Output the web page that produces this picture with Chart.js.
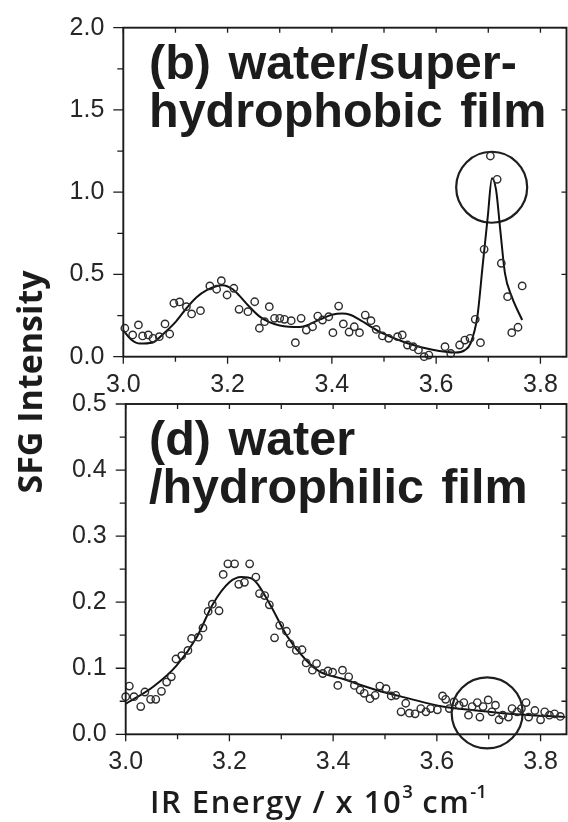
<!DOCTYPE html>
<html lang="en">

<head>
    <meta charset="UTF-8">
    <title>SFG spectra</title>
    <script src="https://cdn.jsdelivr.net/npm/chart.js"></script>
    <style>
        body {
            margin: 0;
            width: 568px;
            height: 822px;
            background: #fff;
            position: relative;
            overflow: hidden;
        }

        canvas {
            position: absolute;
            left: 0;
        }

        #topChart { top: 0; }
        #botChart { top: 380px; }

        .panelLabel {
            position: absolute;
            left: 149px;
            font-family: "Liberation Sans", Arial, sans-serif;
            font-weight: bold;
            font-size: 48.5px;
            line-height: 48px;
            word-spacing: 4px;
            color: #1c1c1c;
            white-space: nowrap;
        }

        #yTitle {
            position: absolute;
            left: -101px;
            top: 362px;
            width: 260px;
            height: 40px;
            line-height: 40px;
            text-align: center;
            font-family: "Open Sans", sans-serif;
            font-weight: 700;
            font-size: 34px;
            color: #1c1c1c;
            transform: rotate(-90deg);
            white-space: nowrap;
        }

        #xTitle {
            position: absolute;
            left: 0;
            width: 637px;
            top: 781px;
            line-height: 40px;
            text-align: center;
            font-family: "Open Sans", sans-serif;
            font-weight: 600;
            font-size: 31px;
            letter-spacing: 1.5px;
            color: #1c1c1c;
            white-space: nowrap;
        }

        #xTitle sup {
            font-size: 0.6em;
            line-height: 0;
            letter-spacing: 0;
            position: relative;
            top: -0.2em;
        }
    </style>
</head>

<body>
    <canvas id="topChart" width="568" height="400"></canvas>
    <canvas id="botChart" width="568" height="400"></canvas>

    <div class="panelLabel" style="top: 37.5px;">(b) water/super-<br>hydrophobic film</div>
    <div class="panelLabel" style="top: 414px;">(d) water<br>/hydrophilic film</div>
    <div id="yTitle">SFG Intensity</div>
    <div id="xTitle">IR Energy / x 10<sup>3</sup> cm<sup>-1</sup></div>

    <script>
        // axis ticks
        const xLabelVals = [3.0, 3.2, 3.4, 3.6, 3.8];
        const xTickVals = [3.0, 3.1, 3.2, 3.3, 3.4, 3.5, 3.6, 3.7, 3.8];
        const topYLabelVals = [0.0, 0.5, 1.0, 1.5, 2.0];
        const topYTickVals = [0.0, 0.25, 0.5, 0.75, 1.0, 1.25, 1.5, 1.75, 2.0];
        const botYLabelVals = [0.0, 0.1, 0.2, 0.3, 0.4, 0.5];
        const botYTickVals = [0.0, 0.05, 0.1, 0.15, 0.2, 0.25, 0.3, 0.35, 0.4, 0.45, 0.5];

        // (b) water / superhydrophobic film: measured points
        const topPtsX = [3.003, 3.018, 3.029, 3.037, 3.048, 3.057, 3.069, 3.080, 3.089, 3.097,
            3.108, 3.121, 3.131, 3.148, 3.166, 3.179, 3.188, 3.199, 3.212, 3.222,
            3.239, 3.252, 3.261, 3.271, 3.280, 3.290, 3.300, 3.309, 3.322, 3.330,
            3.341, 3.351, 3.363, 3.373, 3.382, 3.394, 3.402, 3.413, 3.422, 3.433,
            3.443, 3.453, 3.464, 3.475, 3.485, 3.497, 3.509, 3.526, 3.535, 3.545,
            3.556, 3.566, 3.577, 3.586, 3.617, 3.628, 3.645, 3.655, 3.665, 3.675,
            3.685, 3.692, 3.704, 3.717, 3.725, 3.737, 3.745, 3.757, 3.765];
        const topPtsY = [0.173, 0.132, 0.193, 0.126, 0.132, 0.112, 0.122, 0.199, 0.138, 0.325,
            0.333, 0.304, 0.260, 0.280, 0.430, 0.410, 0.462, 0.375, 0.416, 0.288,
            0.274, 0.334, 0.173, 0.213, 0.304, 0.233, 0.233, 0.227, 0.219, 0.085,
            0.233, 0.162, 0.182, 0.247, 0.223, 0.243, 0.146, 0.308, 0.199, 0.150,
            0.182, 0.146, 0.253, 0.219, 0.166, 0.126, 0.112, 0.122, 0.132, 0.071,
            0.061, 0.041, 0.000, 0.010, 0.061, 0.020, 0.071, 0.101, 0.112, 0.227,
            0.085, 0.653, 1.220, 1.078, 0.568, 0.365, 0.146, 0.179, 0.430];
        // fitted curve
        const topFitX = [3.000, 3.015, 3.032, 3.055, 3.077, 3.100, 3.120, 3.140, 3.160, 3.190,
            3.210, 3.223, 3.240, 3.261, 3.280, 3.300, 3.338, 3.376, 3.400, 3.420,
            3.435, 3.453, 3.491, 3.542, 3.593, 3.637, 3.655, 3.666, 3.679, 3.689,
            3.699, 3.707, 3.715, 3.723, 3.732, 3.745, 3.765];
        const topFitY = [0.160, 0.105, 0.080, 0.085, 0.140, 0.210, 0.290, 0.360, 0.405, 0.435,
            0.410, 0.370, 0.310, 0.245, 0.210, 0.190, 0.180, 0.225, 0.255, 0.263,
            0.255, 0.225, 0.152, 0.085, 0.042, 0.025, 0.040, 0.081, 0.243, 0.547,
            0.851, 1.085, 1.013, 0.770, 0.507, 0.365, 0.223];

        // (d) water / hydrophilic film: measured points
        const botPtsX = [3.000, 3.007, 3.016, 3.029, 3.037, 3.048, 3.058, 3.069, 3.079, 3.088,
            3.097, 3.108, 3.120, 3.127, 3.140, 3.149, 3.159, 3.167, 3.180, 3.188,
            3.197, 3.210, 3.218, 3.229, 3.239, 3.251, 3.258, 3.268, 3.277, 3.287,
            3.297, 3.310, 3.317, 3.329, 3.340, 3.348, 3.360, 3.368, 3.380, 3.390,
            3.399, 3.409, 3.418, 3.430, 3.441, 3.452, 3.460, 3.471, 3.481, 3.490,
            3.502, 3.512, 3.521, 3.531, 3.540, 3.547, 3.558, 3.569, 3.579, 3.588,
            3.601, 3.611, 3.617, 3.624, 3.633, 3.643, 3.652, 3.661, 3.668, 3.678,
            3.683, 3.689, 3.699, 3.706, 3.713, 3.720, 3.727, 3.738, 3.745, 3.755,
            3.763, 3.772, 3.777, 3.789, 3.800, 3.808, 3.817, 3.827, 3.838];
        const botPtsY = [0.057, 0.073, 0.057, 0.042, 0.064, 0.053, 0.053, 0.065, 0.079, 0.087,
            0.114, 0.119, 0.127, 0.145, 0.147, 0.161, 0.186, 0.197, 0.187, 0.242,
            0.258, 0.258, 0.227, 0.230, 0.258, 0.238, 0.213, 0.210, 0.196, 0.146,
            0.165, 0.156, 0.137, 0.127, 0.128, 0.108, 0.097, 0.107, 0.092, 0.096,
            0.094, 0.074, 0.097, 0.087, 0.074, 0.067, 0.062, 0.054, 0.059, 0.073,
            0.069, 0.058, 0.059, 0.034, 0.047, 0.032, 0.031, 0.039, 0.034, 0.039,
            0.037, 0.058, 0.053, 0.039, 0.049, 0.044, 0.048, 0.029, 0.042, 0.048,
            0.026, 0.042, 0.052, 0.034, 0.044, 0.022, 0.029, 0.026, 0.039, 0.034,
            0.039, 0.048, 0.026, 0.036, 0.022, 0.034, 0.029, 0.031, 0.027];
        // fitted curve
        const botFitX = [3.000, 3.053, 3.098, 3.137, 3.168, 3.200, 3.223, 3.245, 3.278, 3.310,
            3.348, 3.374, 3.418, 3.483, 3.547, 3.611, 3.675, 3.739, 3.848];
        const botFitY = [0.046, 0.072, 0.104, 0.147, 0.197, 0.230, 0.238, 0.235, 0.197, 0.150,
            0.112, 0.095, 0.084, 0.067, 0.054, 0.042, 0.036, 0.031, 0.026];

        // highlighted regions (circled)
        const topCircle = { x: 3.7065, y: 1.03 };
        const botCircle = { x: 3.697, y: 0.0324 };

        const ink = '#1b1b1b';
        const tickFont = { family: '"Liberation Sans", Arial, sans-serif', size: 25 };

        // box frame with ticks: outward on left/bottom, inward on top/right
        const frameTicks = {
            id: 'frameTicks',
            afterDraw(chart, args, o) {
                const { ctx, chartArea: a, scales: { x, y } } = chart;
                ctx.save();
                ctx.strokeStyle = ink;
                ctx.lineWidth = 1.3;
                ctx.beginPath();
                xTickVals.forEach((v, i) => {
                    const px = x.getPixelForValue(v);
                    const major = i % 2 === 0;
                    ctx.moveTo(px, a.bottom);
                    ctx.lineTo(px, a.bottom + (major ? 7 : 5));
                    ctx.moveTo(px, a.top);
                    ctx.lineTo(px, a.top + 5);
                });
                o.yTicks.forEach((v, i) => {
                    const py = y.getPixelForValue(v);
                    const major = i % 2 === 0;
                    ctx.moveTo(a.left, py);
                    ctx.lineTo(a.left - (major ? 10 : 6), py);
                    if (major || o.rightMinor) {
                        ctx.moveTo(a.right, py);
                        ctx.lineTo(a.right - 5, py);
                    }
                });
                ctx.stroke();
                ctx.lineWidth = 1.9;
                ctx.strokeRect(a.left, a.top, a.right - a.left, a.bottom - a.top);
                ctx.restore();
            }
        };

        // fixed axis sizes, and no extra room reserved for edge labels
        function fixBox(s, w, h) {
            if (w !== null) s.width = w;
            if (h !== null) s.height = h;
            s.paddingLeft = 0;
            s.paddingRight = 0;
            s.paddingTop = 0;
            s.paddingBottom = 0;
        }

        function makePanel(id, cfg) {
            const pts = cfg.ptsX.map((x, i) => ({ x: x, y: cfg.ptsY[i] }));
            const fit = cfg.fitX.map((x, i) => ({ x: x, y: cfg.fitY[i] }));
            return new Chart(document.getElementById(id), {
                type: 'scatter',
                data: {
                    datasets: [{
                        data: pts,
                        pointRadius: 3.7,
                        pointBorderWidth: 1.4,
                        pointBorderColor: '#2c2c2c',
                        pointBackgroundColor: 'rgba(255,255,255,0)',
                        clip: false
                    }, {
                        data: fit,
                        showLine: true,
                        pointRadius: 0,
                        borderColor: '#111',
                        borderWidth: 2,
                        cubicInterpolationMode: 'monotone'
                    }, {
                        data: [cfg.circle],
                        pointRadius: 35.5,
                        pointBorderWidth: 2.2,
                        pointBorderColor: '#1e1e1e',
                        pointBackgroundColor: 'rgba(255,255,255,0)',
                        clip: false
                    }]
                },
                options: {
                    responsive: false,
                    animation: false,
                    events: [],
                    layout: {
                        autoPadding: false,
                        padding: { top: cfg.top, right: 1.5, left: 0, bottom: 0 }
                    },
                    plugins: {
                        legend: { display: false },
                        tooltip: { enabled: false },
                        frameTicks: { yTicks: cfg.yTicks, rightMinor: cfg.rightMinor }
                    },
                    scales: {
                        x: {
                            type: 'linear',
                            min: 3.0,
                            max: 3.85,
                            grid: { display: false },
                            border: { display: false },
                            afterBuildTicks: s => { s.ticks = xLabelVals.map(v => ({ value: v })); },
                            afterFit: s => fixBox(s, null, cfg.xHeight),
                            ticks: {
                                padding: 5,
                                font: tickFont,
                                color: '#262626',
                                maxRotation: 0,
                                autoSkip: false,
                                callback: v => v.toFixed(1)
                            }
                        },
                        y: {
                            type: 'linear',
                            min: 0,
                            max: cfg.yMax,
                            grid: { display: false },
                            border: { display: false },
                            afterBuildTicks: s => { s.ticks = cfg.yLabels.map(v => ({ value: v })); },
                            afterFit: s => fixBox(s, cfg.yWidth, null),
                            ticks: {
                                padding: 11,
                                font: tickFont,
                                color: '#262626',
                                autoSkip: false,
                                callback: v => v.toFixed(1)
                            }
                        }
                    }
                },
                plugins: [frameTicks]
            });
        }

        makePanel('topChart', {
            ptsX: topPtsX, ptsY: topPtsY, fitX: topFitX, fitY: topFitY,
            circle: topCircle, yMax: 2.0, yLabels: topYLabelVals, yTicks: topYTickVals,
            rightMinor: false, top: 27.7, xHeight: 43.3, yWidth: 123.3
        });

        makePanel('botChart', {
            ptsX: botPtsX, ptsY: botPtsY, fitX: botFitX, fitY: botFitY,
            circle: botCircle, yMax: 0.5, yLabels: botYLabelVals, yTicks: botYTickVals,
            rightMinor: true, top: 24, xHeight: 45.7, yWidth: 125.7
        });
    </script>
</body>

</html>
